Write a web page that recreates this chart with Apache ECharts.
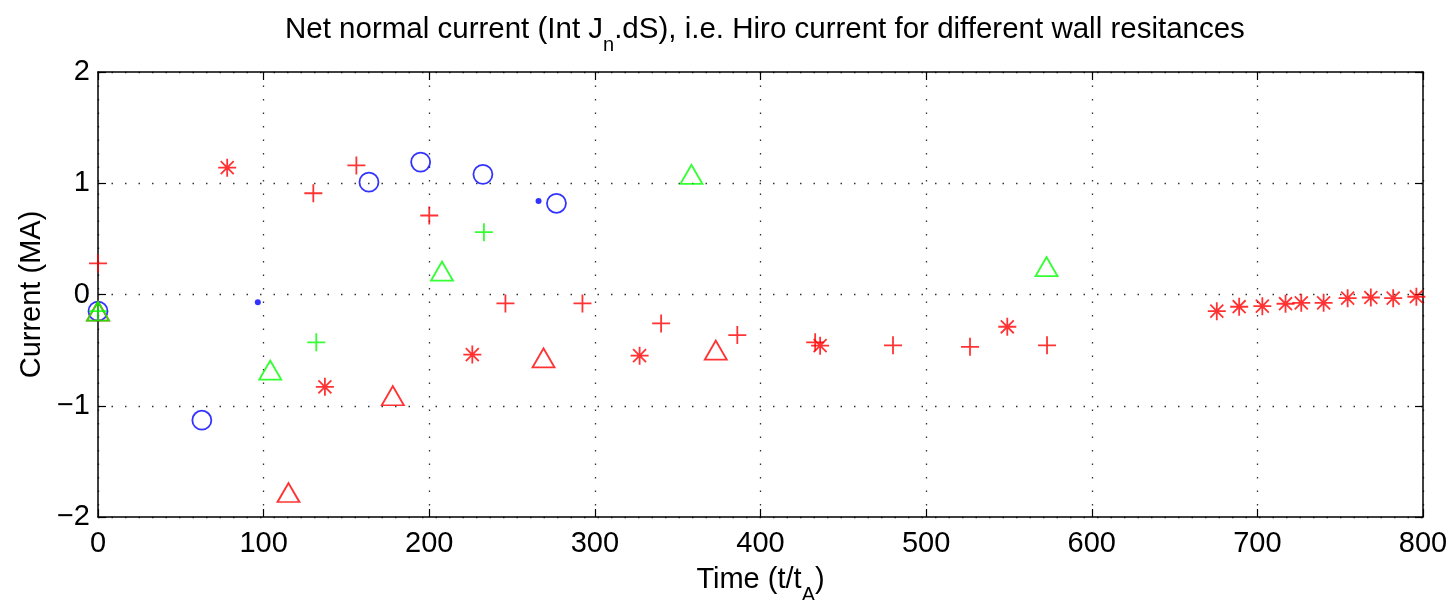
<!DOCTYPE html>
<html>
<head>
<meta charset="utf-8">
<script src="https://cdn.jsdelivr.net/npm/echarts@6/dist/echarts.min.js"></script>
<style>
  html, body { margin: 0; padding: 0; background: #fff; }
  #chart { width: 1454px; height: 600px; }
</style>
</head>
<body>
<div id="chart"></div>
<script>
// Time (t/tA) and current (MA) for each run / marker style
const redStarT  = [78, 137, 226, 327, 436, 549, 675.5, 689, 703, 717, 726.5, 740, 754.5, 768.5, 782, 796];
const redStarI  = [1.14, -0.83, -0.54, -0.55, -0.46, -0.29, -0.15, -0.11, -0.105, -0.083, -0.075, -0.075, -0.033, -0.027, -0.033, -0.02];
const redPlusT  = [0, 130, 156, 200, 246, 292.5, 340, 386, 433, 480, 526.5, 573];
const redPlusI  = [0.28, 0.91, 1.16, 0.71, -0.08, -0.08, -0.26, -0.365, -0.43, -0.457, -0.47, -0.457];
const redTriT   = [0, 115, 178, 269, 373];
const redTriI   = [-0.15, -1.78, -0.91, -0.57, -0.50];
const blueCircT = [0, 62.7, 163.6, 194.8, 232.4, 276.8];
const blueCircI = [-0.15, -1.13, 1.01, 1.19, 1.08, 0.82];
const blueDotT  = [96.5, 266];
const blueDotI  = [-0.07, 0.84];
const greenTriT = [0, 104, 207.7, 358.3, 572.7];
const greenTriI = [-0.15, -0.68, 0.21, 1.08, 0.25];
const greenPlusT = [0, 131.8, 233];
const greenPlusI = [-0.15, -0.43, 0.56];

const xTicks = [0, 100, 200, 300, 400, 500, 600, 700, 800];
const yTicks = [-2, -1, 0, 1, 2];

const FONT = '"Liberation Sans", Arial, Helvetica, sans-serif';
const FS = 29;

const PLUS = 'path://M0,-1L0,1M-1,0L1,0';
const STAR = 'path://M0,-1L0,1M-1,0L1,0M-0.72,-0.72L0.72,0.72M-0.72,0.72L0.72,-0.72';
const TRI  = 'path://M0,-1L0.866,0.5L-0.866,0.5Z';

function pairs(xs, ys) { return xs.map((x, i) => [x, ys[i]]); }

function marker(name, xs, ys, symbol, size, color, filled) {
  return {
    name: name,
    type: 'scatter',
    data: pairs(xs, ys),
    symbol: symbol,
    symbolSize: size,
    itemStyle: filled
      ? { color: color }
      : { color: 'rgba(0,0,0,0)', borderColor: color, borderWidth: 1.8 },
    emphasis: { disabled: true },
    silent: true,
    z: 5
  };
}

const minus = v => String(v).replace('-', '\u2212');

const chart = echarts.init(document.getElementById('chart'), null, { renderer: 'canvas' });

const axisLine = { show: true, onZero: false, lineStyle: { color: '#000', width: 1.5 } };
const tick = { show: true, inside: true, length: 8, lineStyle: { color: '#000', width: 1.2 } };
const gridLine = { show: true, lineStyle: { color: '#333', width: 1.3, type: [1.5, 12] } };
const subStyle = { fontFamily: FONT, fontSize: 20, padding: [30, 0, 0, 0], color: '#000' };

chart.setOption({
  animation: false,
  backgroundColor: '#fff',
  title: {
    text: 'Net normal current (Int J{sub|n}.dS), i.e. Hiro current for different wall resitances',
    left: 280,
    top: 0,
    textStyle: {
      fontFamily: FONT, fontSize: 29.5, fontWeight: 'normal', color: '#000',
      rich: { sub: subStyle }
    }
  },
  grid: { left: 98, right: 31, top: 72, bottom: 83, containLabel: false, outerBoundsMode: 'none' },
  xAxis: [{
    type: 'value', min: 0, max: 800, interval: 100,
    name: 'Time (t/t{sub|A})',
    nameLocation: 'middle', nameGap: 38,
    nameTextStyle: {
      fontFamily: FONT, fontSize: FS, color: '#000',
      rich: { sub: subStyle }
    },
    axisLine: axisLine,
    axisTick: tick,
    axisLabel: { fontFamily: FONT, fontSize: FS, color: '#000', margin: 12,
                 formatter: v => xTicks.includes(v) ? minus(v) : '' },
    splitLine: gridLine
  }, {
    type: 'value', min: 0, max: 800, interval: 100, position: 'top',
    axisLine: axisLine, axisTick: tick,
    axisLabel: { show: false }, splitLine: { show: false }
  }],
  yAxis: [{
    type: 'value', min: -2, max: 2, interval: 1,
    name: 'Current (MA)',
    nameLocation: 'middle', nameGap: 52,
    nameTextStyle: { fontFamily: FONT, fontSize: FS, color: '#000' },
    axisLine: axisLine,
    axisTick: tick,
    axisLabel: { fontFamily: FONT, fontSize: FS, color: '#000', margin: 8,
                 formatter: v => yTicks.includes(v) ? minus(v) : '' },
    splitLine: gridLine
  }, {
    type: 'value', min: -2, max: 2, interval: 1, position: 'right',
    axisLine: axisLine, axisTick: tick,
    axisLabel: { show: false }, splitLine: { show: false }
  }],
  series: [
    marker('blue o', blueCircT, blueCircI, 'circle', 19, '#0000ff', false),
    marker('blue .', blueDotT, blueDotI, 'circle', 6, '#0000ff', true),
    marker('red ^', redTriT, redTriI, TRI, [22, 19], '#ff0000', false),
    marker('green ^', greenTriT, greenTriI, TRI, [22, 19], '#00ff00', false),
    marker('red +', redPlusT, redPlusI, PLUS, 18, '#ff0000', false),
    marker('green +', greenPlusT, greenPlusI, PLUS, 18, '#00ff00', false),
    marker('red *', redStarT, redStarI, STAR, 18, '#ff0000', false)
  ]
});
</script>
</body>
</html>
